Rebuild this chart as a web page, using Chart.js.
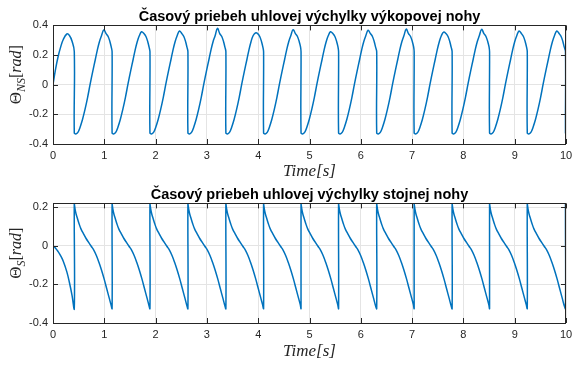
<!DOCTYPE html>
<html>
<head>
<meta charset="utf-8">
<script src="https://cdn.jsdelivr.net/npm/chart.js@4.4.1/dist/chart.umd.min.js"></script>
<style>
  html, body { margin: 0; padding: 0; background: #fff; }
  canvas { display: block; }
</style>
</head>
<body>
<canvas id="swingChart" width="572" height="182"></canvas>
<canvas id="stanceChart" width="572" height="183"></canvas>
<script>
// texts
const swingTitle = 'Časový priebeh uhlovej výchylky výkopovej nohy';
const stanceTitle = 'Časový priebeh uhlovej výchylky stojnej nohy';
const timeLabel = 'Time[s]';

// moments where the legs switch (drop / jump of both curves)
const stepTimes = [0.415, 1.152, 1.89, 2.63, 3.37, 4.105, 4.835, 5.567, 6.31, 7.04, 7.78, 8.51, 9.245, 9.99];

// swing leg (top plot)
const swingStartTime = [0, 0.05, 0.1, 0.15, 0.2, 0.27, 0.32, 0.37, 0.415];
const swingStartTheta = [0, 0.105, 0.19, 0.255, 0.305, 0.342, 0.332, 0.295, 0.224];
// one step after a drop, time since the drop; null = the peak of that step
const swingCycleTime = [0, 0.03, 0.07, 0.11, 0.16, 0.21, 0.26, 0.31, 0.36, 0.41, 0.45, 0.49, 0.53, 0.575, 0.62, 0.66, 0.695, 0.72];
const swingCycleTheta = [-0.325, -0.332, -0.322, -0.29, -0.235, -0.165, -0.085, 0.005, 0.09, 0.17, 0.235, 0.29, 0.33, null, 0.345, 0.325, 0.29, 0.255];
const swingPeaks = [0.369, 0.357, 0.362, 0.38, 0.349, 0.371, 0.357, 0.367, 0.375, 0.355, 0.373, 0.362, 0.362];
const swingDropTop = 0.222;
const swingEndTime = [10];
const swingEndTheta = [-0.331];

// stance leg (bottom plot)
const stanceStartTime = [0, 0.05, 0.1, 0.15, 0.2, 0.27, 0.32, 0.37, 0.415];
const stanceStartTheta = [0, -0.012, -0.03, -0.052, -0.08, -0.135, -0.19, -0.255, -0.325];
const stanceCycleTime = [0, 0.015, 0.035, 0.06, 0.09, 0.13, 0.18, 0.23, 0.28, 0.33, 0.38, 0.43, 0.48, 0.53, 0.58, 0.63, 0.68, 0.715];
const stanceCycleTheta = [0.222, 0.19, 0.165, 0.143, 0.117, 0.088, 0.062, 0.038, 0.018, -0.002, -0.022, -0.05, -0.085, -0.125, -0.17, -0.22, -0.27, -0.305];
const stanceJumpBottom = -0.325;
const stanceEndTime = [10];
const stanceEndTheta = [0.2];

const lineColor = '#0072BD';
const axisColor = '#262626';
const gridColor = '#e4e4e4';

function buildPoints(startT, startV, cycleT, cycleV, peaks, closeV, endT, endV) {
  const pts = startT.map((t, i) => ({ x: t, y: startV[i] }));
  stepTimes.forEach((T, k) => {
    const next = stepTimes[k + 1];
    if (next === undefined) {
      pts.push({ x: T, y: cycleV[0] });
      return;
    }
    cycleT.forEach((dt, i) => {
      const v = cycleV[i] === null ? peaks[k] : cycleV[i];
      pts.push({ x: T + dt, y: v });
    });
    pts.push({ x: next, y: closeV });
  });
  endT.forEach((t, i) => pts.push({ x: t, y: endV[i] }));
  return pts;
}

// box with inward ticks on all four sides, plus the y label with a subscript
const matlabAxes = {
  id: 'matlabAxes',
  afterDraw(chart, args, opts) {
    const { ctx, chartArea: a, scales } = chart;
    ctx.save();
    ctx.strokeStyle = axisColor;
    ctx.lineWidth = 1;
    ctx.beginPath();
    scales.x.ticks.forEach(t => {
      const px = Math.round(scales.x.getPixelForValue(t.value)) + 0.5;
      ctx.moveTo(px, a.bottom); ctx.lineTo(px, a.bottom - 5);
      ctx.moveTo(px, a.top); ctx.lineTo(px, a.top + 5);
    });
    scales.y.ticks.forEach(t => {
      const py = Math.round(scales.y.getPixelForValue(t.value)) + 0.5;
      ctx.moveTo(a.left, py); ctx.lineTo(a.left + 5, py);
      ctx.moveTo(a.right, py); ctx.lineTo(a.right - 5, py);
    });
    ctx.stroke();
    ctx.strokeRect(Math.round(a.left) + 0.5, Math.round(a.top) + 0.5,
      Math.round(a.right - a.left) - 1, Math.round(a.bottom - a.top));

    // y label
    ctx.translate(opts.x, (a.top + a.bottom) / 2 + opts.shift);
    ctx.rotate(-Math.PI / 2);
    ctx.fillStyle = axisColor;
    ctx.textBaseline = 'alphabetic';
    let total = 0;
    opts.parts.forEach(p => { ctx.font = p.font; total += ctx.measureText(p.text).width; });
    let x = -total / 2;
    opts.parts.forEach(p => {
      ctx.font = p.font;
      ctx.fillText(p.text, x, p.dy);
      x += ctx.measureText(p.text).width;
    });
    ctx.restore();
  }
};

function yLabelParts(sub) {
  return [
    { text: 'Θ', font: '17px "Liberation Serif"', dy: 6 },
    { text: sub, font: 'italic 12px "Liberation Serif"', dy: 9.5 },
    { text: '[', font: '16px "Liberation Serif"', dy: 6 },
    { text: 'rad', font: 'italic 16px "Liberation Serif"', dy: 6 },
    { text: ']', font: '16px "Liberation Serif"', dy: 6 }
  ];
}

function makeChart(id, title, points, yMin, yMax, sub, titlePad, xHeight, xTitlePad) {
  const tickFont = { family: '"Liberation Sans", Arial, Helvetica', size: 11 };
  return new Chart(document.getElementById(id), {
    type: 'line',
    data: {
      datasets: [{
        data: points,
        borderColor: lineColor,
        borderWidth: 1.5,
        pointRadius: 0,
        tension: 0.4,
        fill: false
      }]
    },
    options: {
      responsive: false,
      animation: false,
      layout: { padding: { left: 0, right: 0, top: 0, bottom: 0 } },
      plugins: {
        legend: { display: false },
        tooltip: { enabled: false },
        title: {
          display: true,
          text: title,
          fullSize: false,
          color: '#000',
          font: { family: '"Liberation Sans", Arial, Helvetica', size: 14.5, weight: 'bold' },
          padding: titlePad
        },
        matlabAxes: { parts: yLabelParts(sub), x: 15, shift: -10 }
      },
      scales: {
        x: {
          type: 'linear',
          min: 0,
          max: 10,
          ticks: { stepSize: 1, padding: 5, color: axisColor, font: tickFont, maxRotation: 0 },
          grid: { color: gridColor, drawTicks: false },
          border: { display: false },
          title: {
            display: true,
            text: timeLabel,
            color: axisColor,
            font: { family: '"Liberation Serif"', style: 'italic', size: 17 },
            padding: { top: 0, bottom: xTitlePad }
          },
          afterFit: s => {
            s.height = xHeight;
            s.paddingLeft = 0;
            s.paddingRight = 6;
          }
        },
        y: {
          min: yMin,
          max: yMax,
          ticks: {
            stepSize: 0.2,
            includeBounds: false,
            padding: 5,
            color: axisColor,
            font: tickFont,
            callback: v => String(Number(v.toFixed(1)))
          },
          grid: { color: gridColor, drawTicks: false },
          border: { display: false },
          afterFit: s => { s.width = 53; }
        }
      }
    },
    plugins: [matlabAxes]
  });
}

const swingData = buildPoints(swingStartTime, swingStartTheta, swingCycleTime, swingCycleTheta,
  swingPeaks, swingDropTop, swingEndTime, swingEndTheta);
const stanceData = buildPoints(stanceStartTime, stanceStartTheta, stanceCycleTime, stanceCycleTheta,
  [], stanceJumpBottom, stanceEndTime, stanceEndTheta);

makeChart('swingChart', swingTitle, swingData, -0.4, 0.4, 'NS', { top: 8, bottom: 0 }, 38, 0);
makeChart('stanceChart', stanceTitle, stanceData, -0.4, 0.22, 'S', { top: 4, bottom: 0 }, 42, 3);
</script>
</body>
</html>
